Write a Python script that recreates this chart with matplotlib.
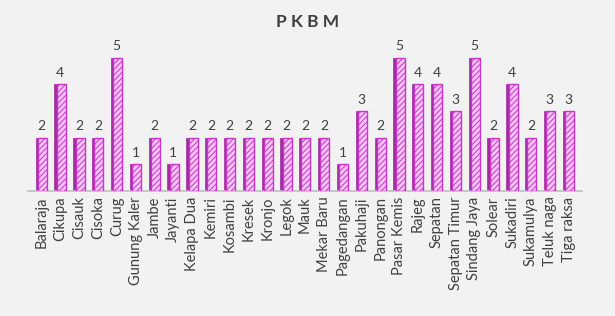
import numpy as np
import matplotlib
matplotlib.use('Agg')
import matplotlib.pyplot as plt

kecamatan = ['Balaraja', 'Cikupa', 'Cisauk', 'Cisoka', 'Curug', 'Gunung Kaler',
             'Jambe', 'Jayanti', 'Kelapa Dua', 'Kemiri', 'Kosambi', 'Kresek',
             'Kronjo', 'Legok', 'Mauk', 'Mekar Baru', 'Pagedangan', 'Pakuhaji',
             'Panongan', 'Pasar Kemis', 'Rajeg', 'Sepatan', 'Sepatan Timur',
             'Sindang Jaya', 'Solear', 'Sukadiri', 'Sukamulya', 'Teluk naga',
             'Tiga raksa']
jumlah = [2, 4, 2, 2, 5, 1, 2, 1, 2, 2, 2, 2, 2, 2, 2, 2, 1, 3, 2, 5, 4, 4, 3,
          5, 2, 4, 2, 3, 3]

BG = '#f2f2f2'
FILL = '#f6c4f6'
EDGE = '#cc33cc'
SIDE = '#a02ca0'

plt.rcParams['hatch.color'] = EDGE
plt.rcParams['hatch.linewidth'] = 0.7

fig = plt.figure(figsize=(6.15, 3.16), dpi=100, facecolor=BG)
ax = fig.add_axes([0.046, 0.396, 0.900, 0.506], facecolor=BG)

x = np.arange(len(kecamatan))
w = 0.58
# sisi gelap (efek 3D)
ax.bar(x - w / 2 + 0.05, jumlah, width=0.14, color=SIDE, edgecolor=SIDE,
       linewidth=0.5, zorder=2)
ax.bar(x + 0.05, jumlah, width=w - 0.1, color=FILL, edgecolor=EDGE,
       linewidth=1.0, hatch='//////', zorder=3)

for xi, v in zip(x, jumlah):
    ax.text(xi, v + 0.2, str(v), ha='center', va='bottom', fontsize=10,
            color='#404040', family='Lato')

ax.set_xlim(-0.7, len(kecamatan) - 0.3)
ax.set_ylim(0, 6)
ax.set_xticks(x)
ax.set_xticklabels(kecamatan, rotation=90, fontsize=10.5, color='#404040',
                   family='Lato')
ax.tick_params(axis='x', length=0, pad=4)
ax.set_yticks([])
for s in ['top', 'right', 'left']:
    ax.spines[s].set_visible(False)
ax.spines['bottom'].set_color('#bfbfbf')
ax.spines['bottom'].set_linewidth(1.2)

fig.text(0.5, 0.93, 'P K B M', ha='center', va='center', fontsize=12.5,
         fontweight='bold', color='#404040', family='Lato')

fig.savefig('out.png', dpi=100, facecolor=BG)
